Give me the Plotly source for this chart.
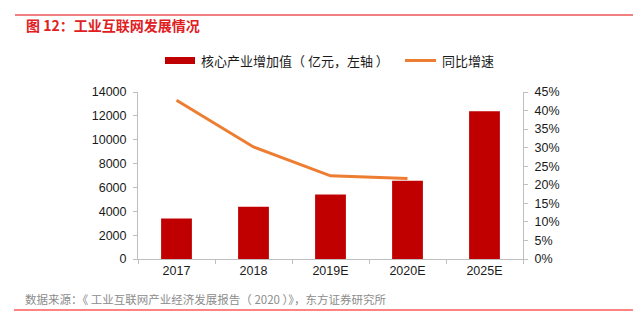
import plotly.graph_objects as go

categories = ["2017", "2018", "2019E", "2020E", "2025E"]
core_value = [3400, 4386, 5414, 6550, 12390]
growth_cat = ["2017", "2018", "2019E", "2020E"]
growth_pct = [0.428, 0.302, 0.224, 0.217]
y1_ticks = [0, 2000, 4000, 6000, 8000, 10000, 12000, 14000]
y1_labels = ["0", "2000", "4000", "6000", "8000", "10000", "12000", "14000"]
y2_ticks = [0, 0.05, 0.10, 0.15, 0.20, 0.25, 0.30, 0.35, 0.40, 0.45]
y2_labels = ["0%", "5%", "10%", "15%", "20%", "25%", "30%", "35%", "40%", "45%"]

W, H = 634, 325
L, R, T, B = 138, 523, 92, 259

def px(x):
    return (x - L) / (R - L)

def py(y):
    return (B - y) / (B - T)

BAR = "#C00000"
LINE = "#ED7D31"
AX = "#BFBFBF"
TXT = "#1a1a1a"
NUMF = "Liberation Sans, Arial, sans-serif"
CJK = "Noto Sans CJK SC, sans-serif"

fig = go.Figure()
fig.add_trace(go.Bar(x=categories, y=core_value, marker=dict(color=BAR, line=dict(width=0)),
                     width=0.4, name="核心产业增加值（亿元，左轴）", showlegend=False))
fig.add_trace(go.Scatter(x=growth_cat, y=growth_pct, mode="lines", yaxis="y2",
                         line=dict(color=LINE, width=3), name="同比增速", showlegend=False))

fig.update_layout(
    width=W, height=H,
    margin=dict(l=L, r=W - R, t=T, b=H - B),
    paper_bgcolor="white", plot_bgcolor="white",
    xaxis=dict(type="category", showline=True, linecolor=AX, linewidth=1,
               ticks="outside", tickson="boundaries", ticklen=4, tickcolor=AX,
               tickfont=dict(family=NUMF, size=12.5, color=TXT), showgrid=False,
               range=[-0.5, 4.5]),
    yaxis=dict(range=[0, 14000], tickvals=y1_ticks, ticktext=y1_labels, showline=True,
               linecolor=AX, linewidth=1,
               ticks="outside", ticklen=4, tickcolor=AX, showgrid=False, zeroline=False,
               tickfont=dict(family=NUMF, size=12.5, color=TXT), ticklabelstandoff=4),
    yaxis2=dict(range=[0, 0.45], tickvals=y2_ticks, ticktext=y2_labels, overlaying="y",
                side="right", showline=True, linecolor=AX, linewidth=1,
                ticks="outside", ticklen=4, tickcolor=AX, showgrid=False, zeroline=False,
                tickfont=dict(family=NUMF, size=12.5, color=TXT), ticklabelstandoff=4),
)

shapes = [
    dict(type="line", xref="paper", yref="paper", x0=px(15), x1=px(633), y0=py(15), y1=py(15),
         line=dict(color="#F08080", width=2)),
    dict(type="line", xref="paper", yref="paper", x0=px(14), x1=px(633), y0=py(310), y1=py(310),
         line=dict(color="#FF5A5A", width=1.5)),
    dict(type="rect", xref="paper", yref="paper", x0=px(165), x1=px(195), y0=py(64), y1=py(57),
         fillcolor=BAR, line=dict(width=0)),
    dict(type="line", xref="paper", yref="paper", x0=px(405), x1=px(436), y0=py(60.5), y1=py(60.5),
         line=dict(color=LINE, width=3)),
]
fig.update_layout(shapes=shapes)

ann = [
    dict(text="<b>图 12：工业互联网发展情况</b>", x=px(24), y=py(25), font=dict(family=CJK, size=14, color="#E0201F")),
    dict(text="核心产业增加值（ 亿元，左轴 ）", x=px(199), y=py(60.5), font=dict(family=CJK, size=13, color=TXT)),
    dict(text="同比增速", x=px(440), y=py(60.5), font=dict(family=CJK, size=13, color=TXT)),
    dict(text="数据来源：《 工业互联网产业经济发展报告（ 2020 ）》，东方证券研究所", x=px(23), y=py(299),
         font=dict(family=CJK, size=11.5, color="#8C8C8C")),
]
for a in ann:
    fig.add_annotation(xref="paper", yref="paper", xanchor="left", yanchor="middle",
                       showarrow=False, **a)

fig.write_html("out.html")
